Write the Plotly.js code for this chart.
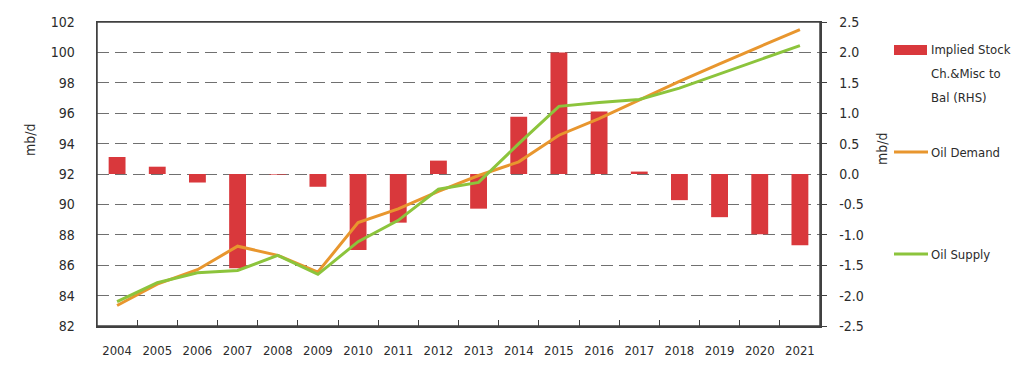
<!DOCTYPE html>
<html>
<head>
<meta charset="utf-8">
<script src="https://cdn.plot.ly/plotly-3.0.1.min.js"></script>
<style>html,body{margin:0;padding:0;background:#fff;}#chart{width:1024px;height:372px;}</style>
</head>
<body>
<div id="chart"></div>
<script>
const years = ['2004','2005','2006','2007','2008','2009','2010','2011','2012','2013','2014','2015','2016','2017','2018','2019','2020','2021'];
const stockChange = [0.28, 0.12, -0.14, -1.55, -0.01, -0.21, -1.25, -0.80, 0.22, -0.57, 0.94, 2.00, 1.03, 0.04, -0.43, -0.71, -0.99, -1.17];
const oilDemand = [83.35, 84.75, 85.7, 87.25, 86.65, 85.55, 88.8, 89.7, 90.85, 91.9, 92.8, 94.55, 95.65, 96.9, 98.1, 99.25, 100.4, 101.5];
const oilSupply = [83.6, 84.85, 85.5, 85.65, 86.65, 85.4, 87.55, 88.95, 91.0, 91.45, 94.0, 96.45, 96.7, 96.9, 97.65, 98.6, 99.5, 100.45];
const leftTicks = [82,84,86,88,90,92,94,96,98,100,102];
const rightTicks = [-2.5,-2.0,-1.5,-1.0,-0.5,0.0,0.5,1.0,1.5,2.0,2.5];

const FONT = 'Liberation Sans Narrow, DejaVu Sans Condensed, Arial Narrow, sans-serif';
const TXT = '#2b2b2b';
const RED = '#D9383C', ORANGE = '#E8962E', GREEN = '#8CC43C';

const traces = [
  {type:'bar', x: years, y: stockChange, yaxis:'y', marker:{color:RED}, width:0.42, name:'Implied Stock Ch.&Misc to Bal (RHS)'},
  {type:'scatter', mode:'lines', x: years, y: oilDemand, yaxis:'y2', line:{color:ORANGE, width:3}, name:'Oil Demand'},
  {type:'scatter', mode:'lines', x: years, y: oilSupply, yaxis:'y2', line:{color:GREEN, width:3}, name:'Oil Supply'}
];

const L = 97, R = 820, T = 22, B = 326;
const W = R - L, H = B - T;
const px = v => (v - L) / W;
const py = v => (B - v) / H;

const annFont = {family: FONT, size: 14, color: TXT};
const legFont = {family: FONT, size: 13, color: TXT};
const annotations = [
  {xref:'paper', yref:'paper', x: px(30), y: py(140), text:'mb/d', textangle:-90, showarrow:false, font:annFont, xanchor:'center', yanchor:'middle'},
  {xref:'paper', yref:'paper', x: px(882), y: py(148), text:'mb/d', textangle:-90, showarrow:false, font:annFont, xanchor:'center', yanchor:'middle'},
  {xref:'paper', yref:'paper', x: px(929), y: py(50), text:'Implied Stock', showarrow:false, font:legFont, xanchor:'left', yanchor:'middle'},
  {xref:'paper', yref:'paper', x: px(929), y: py(73), text:'Ch.&Misc to', showarrow:false, font:legFont, xanchor:'left', yanchor:'middle'},
  {xref:'paper', yref:'paper', x: px(929), y: py(97), text:'Bal (RHS)', showarrow:false, font:legFont, xanchor:'left', yanchor:'middle'},
  {xref:'paper', yref:'paper', x: px(929), y: py(152), text:'Oil Demand', showarrow:false, font:legFont, xanchor:'left', yanchor:'middle'},
  {xref:'paper', yref:'paper', x: px(929), y: py(254), text:'Oil Supply', showarrow:false, font:legFont, xanchor:'left', yanchor:'middle'}
];
const shapes = [
  {type:'rect', xref:'paper', yref:'paper', x0:0, x1:1, y0:0, y1:1, line:{color:'#404040', width:1.5}, fillcolor:'rgba(0,0,0,0)', layer:'above'},
  {type:'rect', xref:'paper', yref:'paper', x0: px(894), x1: px(927), y0: py(55), y1: py(45), fillcolor: RED, line:{width:0}},
  {type:'line', xref:'paper', yref:'paper', x0: px(894), x1: px(928), y0: py(152), y1: py(152), line:{color:ORANGE, width:3}},
  {type:'line', xref:'paper', yref:'paper', x0: px(894), x1: px(928), y0: py(254), y1: py(254), line:{color:GREEN, width:3}}
];

const layout = {
  width:1024, height:372,
  margin:{l:L, r:1024-R, t:T, b:372-B, pad:0},
  paper_bgcolor:'#fff', plot_bgcolor:'#fff',
  showlegend:false,
  font:{family:FONT, size:14, color:TXT},
  xaxis:{type:'category', showline:true, linecolor:'#404040', linewidth:1.5, mirror:true,
         ticks:'inside', ticklen:6, tickcolor:'#404040', tickson:'boundaries', tickangle:0,
         showgrid:false, tickfont:{family:FONT, size:13, color:TXT}, ticklabelstandoff:12},
  yaxis:{side:'right', range:[-2.5,2.5], tickvals:rightTicks, ticktext:rightTicks.map(v=>v.toFixed(1)),
         showline:true, linecolor:'#404040', linewidth:1.5, ticks:'outside', ticklen:5, tickcolor:'#404040',
         showgrid:true, gridcolor:'#707070', griddash:'12px,6px', gridwidth:1, zeroline:false,
         tickfont:{family:FONT, size:14, color:TXT}, ticklabelstandoff:10},
  yaxis2:{overlaying:'y', side:'left', range:[82,102], tickvals:leftTicks,
          showline:true, linecolor:'#404040', linewidth:1.5, ticks:'', showgrid:false, zeroline:false,
          tickfont:{family:FONT, size:14, color:TXT}, ticklabelstandoff:18},
  annotations, shapes
};

Plotly.newPlot('chart', traces, layout, {staticPlot:true, displayModeBar:false});
</script>
</body>
</html>
